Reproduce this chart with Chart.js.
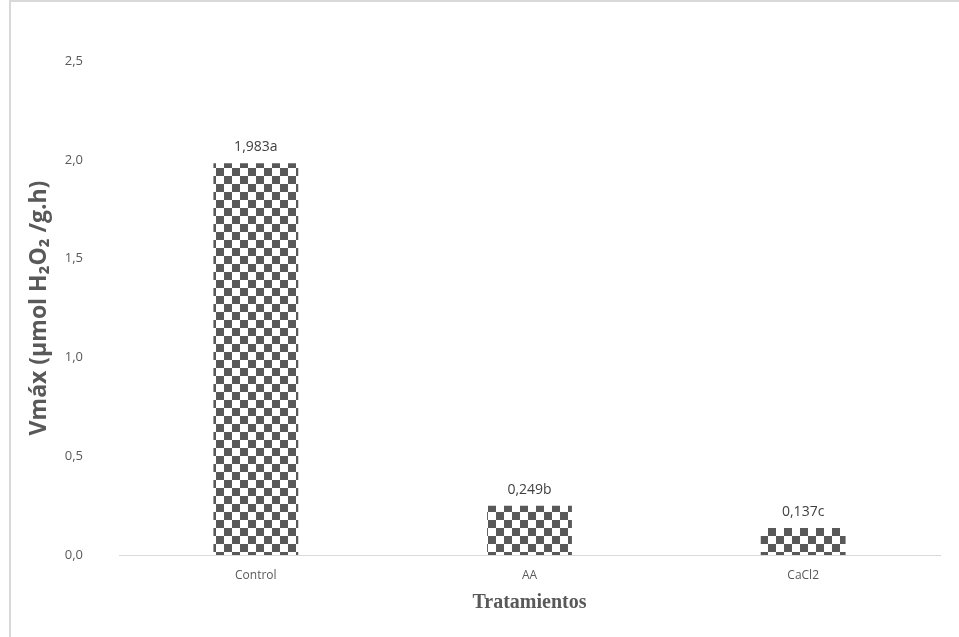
<!DOCTYPE html>
<html>
<head>
<meta charset="utf-8">
<script src="https://cdn.jsdelivr.net/npm/chart.js@4/dist/chart.umd.min.js"></script>
<style>
html,body{margin:0;padding:0;background:#fff;}
#wrap{width:959px;height:637px;position:relative;}
</style>
</head>
<body>
<div id="wrap"><canvas id="c" width="959" height="637"></canvas></div>
<script>
const categories = ["Control", "AA", "CaCl2"];
const vmaxValues = [1.983, 0.249, 0.137];
const valueLabels = ["1,983a", "0,249b", "0,137c"];
const yTickValues = [0, 0.5, 1.0, 1.5, 2.0, 2.5];
const yTitle = "Vmáx (µmol H\u2082O\u2082 /g.h)";
const xTitle = "Tratamientos";

function checker() {
  const s = 8;
  const c = document.createElement('canvas');
  c.width = s * 2; c.height = s * 2;
  const g = c.getContext('2d');
  g.fillStyle = '#ffffff'; g.fillRect(0, 0, s * 2, s * 2);
  g.fillStyle = '#595959';
  g.fillRect(0, 0, s, s);
  g.fillRect(s, s, s, s);
  return g.createPattern(c, 'repeat');
}

const framePlugin = {
  id: 'frame',
  beforeDraw(chart) {
    const ctx = chart.ctx;
    ctx.save();
    ctx.fillStyle = '#d9d9d9';
    ctx.fillRect(9, 0, 2, 637);
    ctx.fillRect(9, 0, 950, 2);
    ctx.restore();
  }
};

const labelPlugin = {
  id: 'valueLabels',
  afterDatasetsDraw(chart) {
    const ctx = chart.ctx;
    const meta = chart.getDatasetMeta(0);
    ctx.save();
    ctx.font = '14px "Open Sans"';
    ctx.fillStyle = '#404040';
    ctx.textAlign = 'center';
    ctx.textBaseline = 'alphabetic';
    meta.data.forEach((bar, i) => {
      ctx.fillText(valueLabels[i], bar.x, bar.y - 12);
    });
    ctx.restore();
  }
};

new Chart(document.getElementById('c'), {
  type: 'bar',
  data: {
    labels: categories,
    datasets: [{
      data: vmaxValues,
      backgroundColor: checker(),
      borderWidth: 0,
      categoryPercentage: 1.0,
      barPercentage: 0.31
    }]
  },
  options: {
    responsive: false,
    animation: false,
    devicePixelRatio: 1,
    layout: { padding: { left: 12, right: 19, top: 61, bottom: 0 } },
    plugins: { legend: { display: false }, tooltip: { enabled: false } },
    scales: {
      x: {
        grid: { display: false },
        border: { display: true, color: '#d9d9d9', width: 1 },
        ticks: { color: '#595959', font: { family: '"Liberation Sans Narrow", "Open Sans"', size: 12 }, padding: 5 },
        title: { display: true, text: xTitle, color: '#595959', font: { family: '"Liberation Serif"', size: 20, weight: 'bold' }, padding: { top: 0, bottom: 22 } },
        afterFit(s) { s.height = 82; }
      },
      y: {
        min: 0, max: 2.5,
        grid: { display: false },
        border: { display: false },
        afterBuildTicks(s) { s.ticks = yTickValues.map(v => ({ value: v })); },
        ticks: {
          color: '#595959',
          font: { family: '"Liberation Sans Narrow", "Open Sans"', size: 13 },
          padding: 28,
          callback: v => v.toFixed(1).replace('.', ',')
        },
        title: { display: true, text: yTitle, color: '#595959', font: { family: '"Open Sans"', size: 23, weight: 'bold' }, padding: { top: 14, bottom: 0 } },
        afterFit(s) { s.width = 107; }
      }
    }
  },
  plugins: [framePlugin, labelPlugin]
});
</script>
</body>
</html>
